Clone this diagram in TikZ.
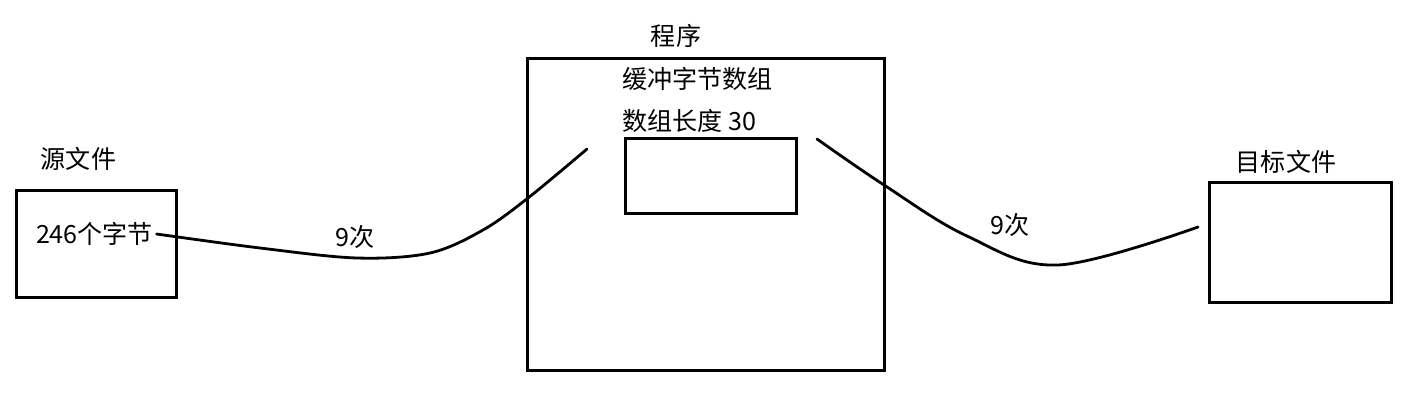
\documentclass[tikz,border=0pt]{standalone}
\usepackage{fontspec}
\setmainfont{Noto Sans CJK SC}
\begin{document}
\begin{tikzpicture}[x=0.75pt,y=-0.75pt,
  boxnode/.style={draw=black,line width=2.25pt,inner sep=0pt,fill=none},
  lbl/.style={inner sep=0pt,font=\fontsize{18.8}{22}\selectfont},
  wire/.style={line width=2.1pt,line cap=round}]
\useasboundingbox (0,0) rectangle (1413,408);
% boxes
\node[boxnode,minimum width=120pt,minimum height=80.25pt] (src) at (96,243.5) {};
\node[boxnode,minimum width=267.75pt,minimum height=234pt] (prog) at (705.5,214) {};
\node[boxnode,minimum width=128.25pt,minimum height=56.25pt] (buf) at (710.5,175.5) {};
\node[boxnode,minimum width=136.5pt,minimum height=90pt] (dst) at (1300,242) {};
% labels
\node[lbl] (srclbl) at (78.5,159) {源文件};
\node[lbl] (bytes) at (94.5,234) {246个字节};
\node[lbl] (proglbl) at (676,36) {程序};
\node[lbl,anchor=west] (buflbl) at (622,79) {缓冲字节数组};
\node[lbl,anchor=west] (lenlbl) at (622,121) {数组长度 30};
\node[lbl] (dstlbl) at (1286,162) {目标文件};
\node[lbl] (n1) at (355,237) {9次};
\node[lbl] (n2) at (1010,225) {9次};
% connectors
\coordinate (a0) at ([xshift=2.5pt]bytes.east);
\coordinate (a1) at (587,149);
\coordinate (b0) at (817,139);
\coordinate (b1) at (1198,227);
\draw[wire] plot[smooth,tension=0.55] coordinates {(a0) (260,248) (357,258) (430,253) (483,230) (528,198) (a1)};
\draw[wire] plot[smooth,tension=0.6] coordinates {(b0) (884,185) (967,236) (1058,265) (b1)};
\end{tikzpicture}
\end{document}
